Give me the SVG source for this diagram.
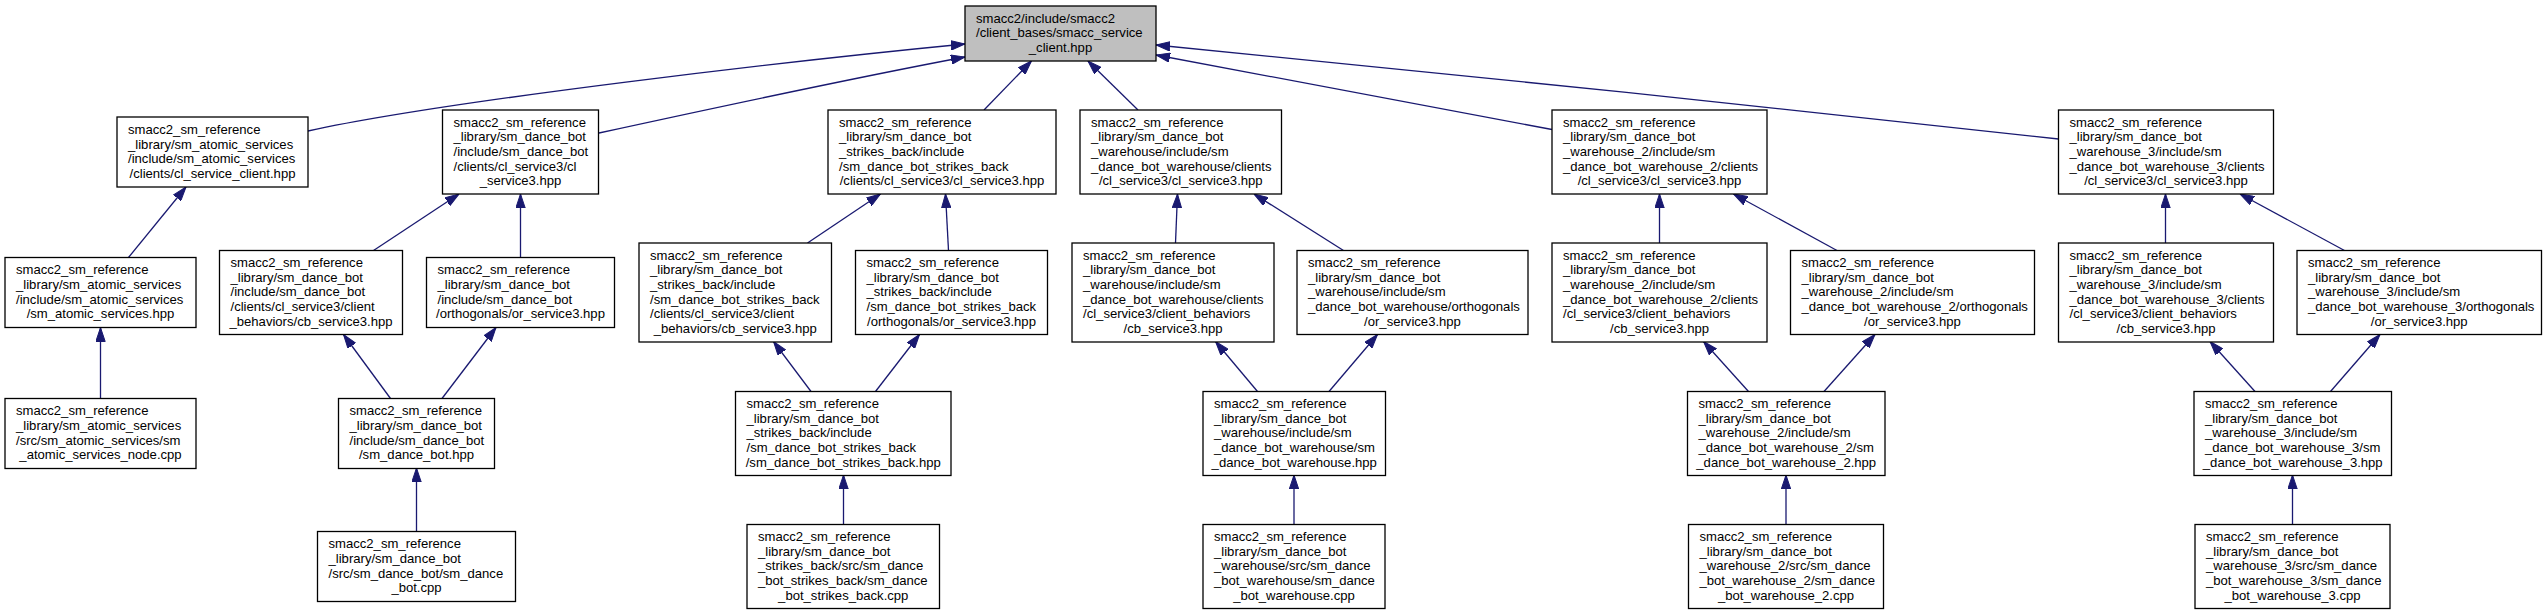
<svg xmlns="http://www.w3.org/2000/svg" width="2547" height="615" viewBox="0 0 2547 615">
<style>
.node rect{fill:#fff;stroke:#000;stroke-width:1.3}
.root rect{fill:#bfbfbf}
.node text{font-family:"Liberation Sans",Arial,Helvetica,sans-serif;font-size:13.1px;fill:#000}
.c{text-anchor:middle}
#edges path{fill:none;stroke:#191970;stroke-width:1.3;marker-end:url(#arr)}
</style>
<defs>
<marker id="arr" viewBox="0 0 14 10" refX="14" refY="5" markerWidth="14" markerHeight="10" markerUnits="userSpaceOnUse" orient="auto">
<path d="M0,0.3 L14,5 L0,9.7 z" fill="#191970" stroke="#191970" stroke-width="1"/>
</marker>
</defs>
<rect x="0" y="0" width="2547" height="615" fill="#fff"/>
<g id="edges">
<path d="M308,131 C450,100 800,60 965,44"/>
<path d="M599,133 C700,111 880,73 965,57"/>
<path d="M984,110 L1031.5,61"/>
<path d="M1138,110 L1088,61"/>
<path d="M1552,129.5 L1156,55"/>
<path d="M2058.5,139 C1800,110 1400,68 1156,45"/>
<path d="M128.5,257.5 L186,187"/>
<path d="M100.5,398.5 L100.5,327.5"/>
<path d="M373.5,250.5 L459,194"/>
<path d="M520.5,257.5 L520.5,194"/>
<path d="M390.5,398.5 L343.5,334.5"/>
<path d="M442,398.5 L496,327.5"/>
<path d="M416.5,531.5 L416.5,468"/>
<path d="M807.5,243 L880.5,194"/>
<path d="M948.5,250.5 L945.5,194"/>
<path d="M811,391.5 L773.5,341.5"/>
<path d="M875.5,391.5 L919.5,334.5"/>
<path d="M843.5,524.5 L843.5,475"/>
<path d="M1175.5,243 L1177.5,194"/>
<path d="M1343.5,250.5 L1254,194"/>
<path d="M1257.5,391.5 L1215.5,341.5"/>
<path d="M1329,391.5 L1377.5,334.5"/>
<path d="M1294,524.5 L1294,475"/>
<path d="M1659.5,243 L1659.5,194"/>
<path d="M1837,250.5 L1733.5,194"/>
<path d="M1748.5,391.5 L1703.5,341.5"/>
<path d="M1824,391.5 L1875,334.5"/>
<path d="M1786,524.5 L1786,475"/>
<path d="M2165.5,243 L2165.5,194"/>
<path d="M2344.5,250.5 L2240,194"/>
<path d="M2255,391.5 L2210,341.5"/>
<path d="M2330.5,391.5 L2380,334.5"/>
<path d="M2292.5,524.5 L2292.5,475"/>
</g>
<g id="root" class="node root">
<rect x="965" y="6" width="191" height="55"/>
<text><tspan x="976" y="22.6">smacc2/include/smacc2</tspan><tspan x="976" y="37.3">/client_bases/smacc_service</tspan><tspan class="c" x="1060.5" y="51.9">_client.hpp</tspan></text>
</g>
<g id="nA" class="node">
<rect x="117" y="117" width="191" height="70"/>
<text><tspan x="128" y="133.8">smacc2_sm_reference</tspan><tspan x="128" y="148.5">_library/sm_atomic_services</tspan><tspan x="128" y="163.1">/include/sm_atomic_services</tspan><tspan class="c" x="212.5" y="177.8">/clients/cl_service_client.hpp</tspan></text>
</g>
<g id="nB" class="node">
<rect x="442.5" y="110" width="156" height="84"/>
<text><tspan x="453.5" y="126.5">smacc2_sm_reference</tspan><tspan x="453.5" y="141.2">_library/sm_dance_bot</tspan><tspan x="453.5" y="155.8">/include/sm_dance_bot</tspan><tspan x="453.5" y="170.5">/clients/cl_service3/cl</tspan><tspan class="c" x="520.5" y="185.2">_service3.hpp</tspan></text>
</g>
<g id="nC" class="node">
<rect x="828" y="110" width="228" height="84"/>
<text><tspan x="839" y="126.5">smacc2_sm_reference</tspan><tspan x="839" y="141.2">_library/sm_dance_bot</tspan><tspan x="839" y="155.8">_strikes_back/include</tspan><tspan x="839" y="170.5">/sm_dance_bot_strikes_back</tspan><tspan class="c" x="942" y="185.2">/clients/cl_service3/cl_service3.hpp</tspan></text>
</g>
<g id="nD" class="node">
<rect x="1080" y="110" width="201.5" height="84"/>
<text><tspan x="1091" y="126.5">smacc2_sm_reference</tspan><tspan x="1091" y="141.2">_library/sm_dance_bot</tspan><tspan x="1091" y="155.8">_warehouse/include/sm</tspan><tspan x="1091" y="170.5">_dance_bot_warehouse/clients</tspan><tspan class="c" x="1180.75" y="185.2">/cl_service3/cl_service3.hpp</tspan></text>
</g>
<g id="nE" class="node">
<rect x="1552" y="110" width="215" height="84"/>
<text><tspan x="1563" y="126.5">smacc2_sm_reference</tspan><tspan x="1563" y="141.2">_library/sm_dance_bot</tspan><tspan x="1563" y="155.8">_warehouse_2/include/sm</tspan><tspan x="1563" y="170.5">_dance_bot_warehouse_2/clients</tspan><tspan class="c" x="1659.5" y="185.2">/cl_service3/cl_service3.hpp</tspan></text>
</g>
<g id="nF" class="node">
<rect x="2058.5" y="110" width="215" height="84"/>
<text><tspan x="2069.5" y="126.5">smacc2_sm_reference</tspan><tspan x="2069.5" y="141.2">_library/sm_dance_bot</tspan><tspan x="2069.5" y="155.8">_warehouse_3/include/sm</tspan><tspan x="2069.5" y="170.5">_dance_bot_warehouse_3/clients</tspan><tspan class="c" x="2166" y="185.2">/cl_service3/cl_service3.hpp</tspan></text>
</g>
<g id="nG" class="node">
<rect x="5" y="257.5" width="191" height="70"/>
<text><tspan x="16" y="274.3">smacc2_sm_reference</tspan><tspan x="16" y="289">_library/sm_atomic_services</tspan><tspan x="16" y="303.6">/include/sm_atomic_services</tspan><tspan class="c" x="100.5" y="318.3">/sm_atomic_services.hpp</tspan></text>
</g>
<g id="nH" class="node">
<rect x="219.5" y="250.5" width="183" height="84"/>
<text><tspan x="230.5" y="267">smacc2_sm_reference</tspan><tspan x="230.5" y="281.7">_library/sm_dance_bot</tspan><tspan x="230.5" y="296.3">/include/sm_dance_bot</tspan><tspan x="230.5" y="311">/clients/cl_service3/client</tspan><tspan class="c" x="311" y="325.7">_behaviors/cb_service3.hpp</tspan></text>
</g>
<g id="nI" class="node">
<rect x="426.5" y="257.5" width="188" height="70"/>
<text><tspan x="437.5" y="274.3">smacc2_sm_reference</tspan><tspan x="437.5" y="289">_library/sm_dance_bot</tspan><tspan x="437.5" y="303.6">/include/sm_dance_bot</tspan><tspan class="c" x="520.5" y="318.3">/orthogonals/or_service3.hpp</tspan></text>
</g>
<g id="nJ" class="node">
<rect x="639" y="243" width="192.5" height="99"/>
<text><tspan x="650" y="259.6">smacc2_sm_reference</tspan><tspan x="650" y="274.3">_library/sm_dance_bot</tspan><tspan x="650" y="289">_strikes_back/include</tspan><tspan x="650" y="303.6">/sm_dance_bot_strikes_back</tspan><tspan x="650" y="318.3">/clients/cl_service3/client</tspan><tspan class="c" x="735.25" y="333">_behaviors/cb_service3.hpp</tspan></text>
</g>
<g id="nK" class="node">
<rect x="855.5" y="250.5" width="192" height="84"/>
<text><tspan x="866.5" y="267">smacc2_sm_reference</tspan><tspan x="866.5" y="281.7">_library/sm_dance_bot</tspan><tspan x="866.5" y="296.3">_strikes_back/include</tspan><tspan x="866.5" y="311">/sm_dance_bot_strikes_back</tspan><tspan class="c" x="951.5" y="325.7">/orthogonals/or_service3.hpp</tspan></text>
</g>
<g id="nL" class="node">
<rect x="1072" y="243" width="202" height="99"/>
<text><tspan x="1083" y="259.6">smacc2_sm_reference</tspan><tspan x="1083" y="274.3">_library/sm_dance_bot</tspan><tspan x="1083" y="289">_warehouse/include/sm</tspan><tspan x="1083" y="303.6">_dance_bot_warehouse/clients</tspan><tspan x="1083" y="318.3">/cl_service3/client_behaviors</tspan><tspan class="c" x="1173" y="333">/cb_service3.hpp</tspan></text>
</g>
<g id="nM" class="node">
<rect x="1297" y="250.5" width="231" height="84"/>
<text><tspan x="1308" y="267">smacc2_sm_reference</tspan><tspan x="1308" y="281.7">_library/sm_dance_bot</tspan><tspan x="1308" y="296.3">_warehouse/include/sm</tspan><tspan x="1308" y="311">_dance_bot_warehouse/orthogonals</tspan><tspan class="c" x="1412.5" y="325.7">/or_service3.hpp</tspan></text>
</g>
<g id="nN" class="node">
<rect x="1552" y="243" width="215" height="99"/>
<text><tspan x="1563" y="259.6">smacc2_sm_reference</tspan><tspan x="1563" y="274.3">_library/sm_dance_bot</tspan><tspan x="1563" y="289">_warehouse_2/include/sm</tspan><tspan x="1563" y="303.6">_dance_bot_warehouse_2/clients</tspan><tspan x="1563" y="318.3">/cl_service3/client_behaviors</tspan><tspan class="c" x="1659.5" y="333">/cb_service3.hpp</tspan></text>
</g>
<g id="nO" class="node">
<rect x="1790.5" y="250.5" width="244" height="84"/>
<text><tspan x="1801.5" y="267">smacc2_sm_reference</tspan><tspan x="1801.5" y="281.7">_library/sm_dance_bot</tspan><tspan x="1801.5" y="296.3">_warehouse_2/include/sm</tspan><tspan x="1801.5" y="311">_dance_bot_warehouse_2/orthogonals</tspan><tspan class="c" x="1912.5" y="325.7">/or_service3.hpp</tspan></text>
</g>
<g id="nP" class="node">
<rect x="2058.5" y="243" width="215" height="99"/>
<text><tspan x="2069.5" y="259.6">smacc2_sm_reference</tspan><tspan x="2069.5" y="274.3">_library/sm_dance_bot</tspan><tspan x="2069.5" y="289">_warehouse_3/include/sm</tspan><tspan x="2069.5" y="303.6">_dance_bot_warehouse_3/clients</tspan><tspan x="2069.5" y="318.3">/cl_service3/client_behaviors</tspan><tspan class="c" x="2166" y="333">/cb_service3.hpp</tspan></text>
</g>
<g id="nQ" class="node">
<rect x="2297" y="250.5" width="244.5" height="84"/>
<text><tspan x="2308" y="267">smacc2_sm_reference</tspan><tspan x="2308" y="281.7">_library/sm_dance_bot</tspan><tspan x="2308" y="296.3">_warehouse_3/include/sm</tspan><tspan x="2308" y="311">_dance_bot_warehouse_3/orthogonals</tspan><tspan class="c" x="2419.25" y="325.7">/or_service3.hpp</tspan></text>
</g>
<g id="nR" class="node">
<rect x="5" y="398.5" width="191" height="70"/>
<text><tspan x="16" y="415.3">smacc2_sm_reference</tspan><tspan x="16" y="430">_library/sm_atomic_services</tspan><tspan x="16" y="444.6">/src/sm_atomic_services/sm</tspan><tspan class="c" x="100.5" y="459.3">_atomic_services_node.cpp</tspan></text>
</g>
<g id="nS" class="node">
<rect x="338.5" y="398.5" width="156" height="70"/>
<text><tspan x="349.5" y="415.3">smacc2_sm_reference</tspan><tspan x="349.5" y="430">_library/sm_dance_bot</tspan><tspan x="349.5" y="444.6">/include/sm_dance_bot</tspan><tspan class="c" x="416.5" y="459.3">/sm_dance_bot.hpp</tspan></text>
</g>
<g id="nT" class="node">
<rect x="735.5" y="391.5" width="215.5" height="84"/>
<text><tspan x="746.5" y="408">smacc2_sm_reference</tspan><tspan x="746.5" y="422.7">_library/sm_dance_bot</tspan><tspan x="746.5" y="437.3">_strikes_back/include</tspan><tspan x="746.5" y="452">/sm_dance_bot_strikes_back</tspan><tspan class="c" x="843.25" y="466.7">/sm_dance_bot_strikes_back.hpp</tspan></text>
</g>
<g id="nU" class="node">
<rect x="1203" y="391.5" width="182.5" height="84"/>
<text><tspan x="1214" y="408">smacc2_sm_reference</tspan><tspan x="1214" y="422.7">_library/sm_dance_bot</tspan><tspan x="1214" y="437.3">_warehouse/include/sm</tspan><tspan x="1214" y="452">_dance_bot_warehouse/sm</tspan><tspan class="c" x="1294.25" y="466.7">_dance_bot_warehouse.hpp</tspan></text>
</g>
<g id="nV" class="node">
<rect x="1687.5" y="391.5" width="197.5" height="84"/>
<text><tspan x="1698.5" y="408">smacc2_sm_reference</tspan><tspan x="1698.5" y="422.7">_library/sm_dance_bot</tspan><tspan x="1698.5" y="437.3">_warehouse_2/include/sm</tspan><tspan x="1698.5" y="452">_dance_bot_warehouse_2/sm</tspan><tspan class="c" x="1786.25" y="466.7">_dance_bot_warehouse_2.hpp</tspan></text>
</g>
<g id="nW" class="node">
<rect x="2194" y="391.5" width="197.5" height="84"/>
<text><tspan x="2205" y="408">smacc2_sm_reference</tspan><tspan x="2205" y="422.7">_library/sm_dance_bot</tspan><tspan x="2205" y="437.3">_warehouse_3/include/sm</tspan><tspan x="2205" y="452">_dance_bot_warehouse_3/sm</tspan><tspan class="c" x="2292.75" y="466.7">_dance_bot_warehouse_3.hpp</tspan></text>
</g>
<g id="nX" class="node">
<rect x="317.5" y="531.5" width="198" height="70"/>
<text><tspan x="328.5" y="548.3">smacc2_sm_reference</tspan><tspan x="328.5" y="563">_library/sm_dance_bot</tspan><tspan x="328.5" y="577.6">/src/sm_dance_bot/sm_dance</tspan><tspan class="c" x="416.5" y="592.3">_bot.cpp</tspan></text>
</g>
<g id="nY" class="node">
<rect x="747" y="524.5" width="192.5" height="84"/>
<text><tspan x="758" y="541">smacc2_sm_reference</tspan><tspan x="758" y="555.7">_library/sm_dance_bot</tspan><tspan x="758" y="570.3">_strikes_back/src/sm_dance</tspan><tspan x="758" y="585">_bot_strikes_back/sm_dance</tspan><tspan class="c" x="843.25" y="599.7">_bot_strikes_back.cpp</tspan></text>
</g>
<g id="nZ" class="node">
<rect x="1203" y="524.5" width="182" height="84"/>
<text><tspan x="1214" y="541">smacc2_sm_reference</tspan><tspan x="1214" y="555.7">_library/sm_dance_bot</tspan><tspan x="1214" y="570.3">_warehouse/src/sm_dance</tspan><tspan x="1214" y="585">_bot_warehouse/sm_dance</tspan><tspan class="c" x="1294" y="599.7">_bot_warehouse.cpp</tspan></text>
</g>
<g id="nAA" class="node">
<rect x="1688.5" y="524.5" width="195" height="84"/>
<text><tspan x="1699.5" y="541">smacc2_sm_reference</tspan><tspan x="1699.5" y="555.7">_library/sm_dance_bot</tspan><tspan x="1699.5" y="570.3">_warehouse_2/src/sm_dance</tspan><tspan x="1699.5" y="585">_bot_warehouse_2/sm_dance</tspan><tspan class="c" x="1786" y="599.7">_bot_warehouse_2.cpp</tspan></text>
</g>
<g id="nAB" class="node">
<rect x="2195" y="524.5" width="195" height="84"/>
<text><tspan x="2206" y="541">smacc2_sm_reference</tspan><tspan x="2206" y="555.7">_library/sm_dance_bot</tspan><tspan x="2206" y="570.3">_warehouse_3/src/sm_dance</tspan><tspan x="2206" y="585">_bot_warehouse_3/sm_dance</tspan><tspan class="c" x="2292.5" y="599.7">_bot_warehouse_3.cpp</tspan></text>
</g>
</svg>
